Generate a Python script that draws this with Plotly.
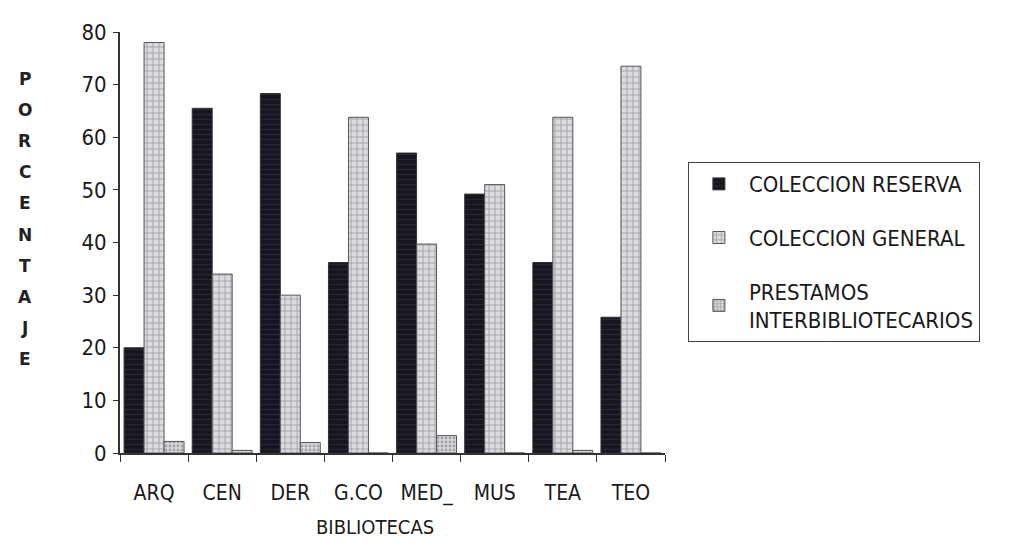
import plotly.graph_objects as go

# Datos
bibliotecas = ["ARQ", "CEN", "DER", "G.CO", "MED_", "MUS", "TEA", "TEO"]
reserva = [20, 65.5, 68.3, 36.2, 57, 49.2, 36.2, 25.8]
general = [78, 34, 30, 63.8, 39.7, 51, 63.8, 73.5]
prestamos = [2.2, 0.5, 2, 0, 3.3, 0, 0.5, 0]
y_ticks = [0, 10, 20, 30, 40, 50, 60, 70, 80]
titulo_y = "PORCENTAJE"

font_main = "DejaVu Sans Condensed, DejaVu Sans, sans-serif"

fig = go.Figure()
fig.add_trace(go.Bar(
    x=bibliotecas, y=reserva, name="COLECCION RESERVA", legendgroup="a",
    marker=dict(color="#15151f", line=dict(color="#333", width=1),
                pattern=dict(shape="-", fgcolor="#3a3a48", size=5, solidity=0.25)),
))
fig.add_trace(go.Bar(
    x=bibliotecas, y=general, name="COLECCION GENERAL", legendgroup="b",
    marker=dict(color="#d8d8dc", line=dict(color="#555", width=1),
                pattern=dict(shape="+", fgcolor="#6a6a74", bgcolor="#dcdce0", size=6, solidity=0.3)),
))
fig.add_trace(go.Bar(
    x=bibliotecas, y=prestamos, name="PRESTAMOS<br>INTERBIBLIOTECARIOS", legendgroup="c",
    marker=dict(color="#d0d0d4", line=dict(color="#555", width=1),
                pattern=dict(shape=".", fgcolor="#6a6a74", bgcolor="#d8d8dc", size=4, solidity=0.4)),
))

# titulo vertical letra por letra
for i, letra in enumerate(titulo_y):
    fig.add_annotation(
        text="<b>" + letra + "</b>", xref="paper", yref="paper", x=-0.175, y=0.889 - i * 0.074,
        xanchor="center", yanchor="middle",
        showarrow=False, font=dict(family="DejaVu Sans", size=17, color="#222"),
    )

fig.add_annotation(
    text="BIBLIOTECAS", xref="paper", yref="paper", x=0.468, y=-0.175,
    xanchor="center", yanchor="middle",
    showarrow=False, font=dict(size=20, color="#1a1a1a"),
)

fig.update_layout(
    width=1026, height=542,
    margin=dict(l=112, r=369, t=14, b=97),
    paper_bgcolor="white", plot_bgcolor="white",
    barmode="group", bargap=0.12, bargroupgap=0,
    font=dict(family=font_main, size=18, color="#1a1a1a"),
    xaxis=dict(
        showline=True, linecolor="#333", linewidth=2, tickson="boundaries",
        ticks="outside", ticklen=7, tickcolor="#333",
        tickfont=dict(size=21), showgrid=False, ticklabelstandoff=20,
    ),
    yaxis=dict(
        range=[0, 80], tickvals=y_ticks, showline=True, linecolor="#333", linewidth=2,
        ticks="outside", ticklen=5, tickcolor="#333", showgrid=False, zeroline=False,
        tickfont=dict(size=22), ticklabelstandoff=2,
    ),
    legend=dict(
        x=1.042, y=0.691, xanchor="left", yanchor="top",
        bordercolor="#444", borderwidth=1, bgcolor="white",
        font=dict(size=22), itemwidth=50, tracegroupgap=22, traceorder="grouped",
    ),
)

fig.write_html("out.html")
